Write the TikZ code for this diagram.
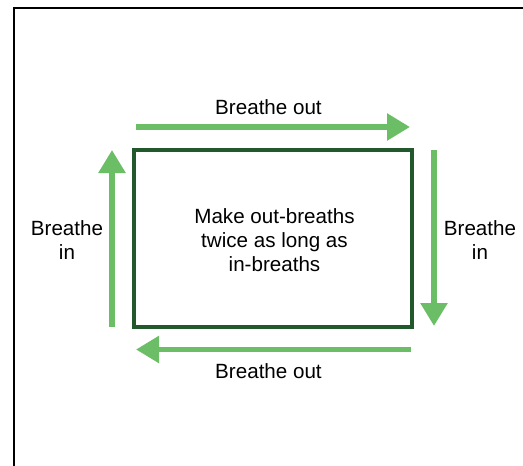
\documentclass[tikz,border=0pt]{standalone}
\usepackage{fontspec}
\setmainfont{Liberation Sans}
\usetikzlibrary{arrows.meta}
\definecolor{arrowgreen}{HTML}{6BBE66}
\definecolor{boxgreen}{HTML}{21592C}
\begin{document}
\begin{tikzpicture}[x=1pt,y=-1pt,
  flow/.style={draw=arrowgreen,line width=5.5pt,
    -{Triangle[length=23pt 0 0,width=26pt 0 0,fill=arrowgreen]}},
  lbl/.style={font=\fontsize{20.6}{24}\selectfont,align=center,inner sep=0pt,text=black}]
\useasboundingbox (0,0) rectangle (523,466);
\draw[line width=1.5pt] (523,8) -- (14,8) -- (14,466);
\node[draw=boxgreen,line width=4pt,minimum width=278pt,minimum height=177pt,inner sep=0pt] (box) at (273,238.5) {};
\node[lbl] (msg) at (274.5,240) {Make out-breaths\\twice as long as\\in-breaths};
\coordinate (t1) at (136,127); \coordinate (t2) at (410,127);
\coordinate (r1) at (434,150); \coordinate (r2) at (434,326);
\coordinate (b1) at (411,349.5); \coordinate (b2) at (136,349.5);
\coordinate (l1) at (112,327); \coordinate (l2) at (112,150);
\draw[flow] (t1) -- (t2);
\draw[flow] (r1) -- (r2);
\draw[flow] (b1) -- (b2);
\draw[flow] (l1) -- (l2);
\node[lbl] (top) at (268.5,107) {Breathe out};
\node[lbl] (bot) at (268.5,371) {Breathe out};
\node[lbl] (lft) at (67,240) {Breathe\\in};
\node[lbl] (rgt) at (480,240) {Breathe\\in};
\end{tikzpicture}
\end{document}
